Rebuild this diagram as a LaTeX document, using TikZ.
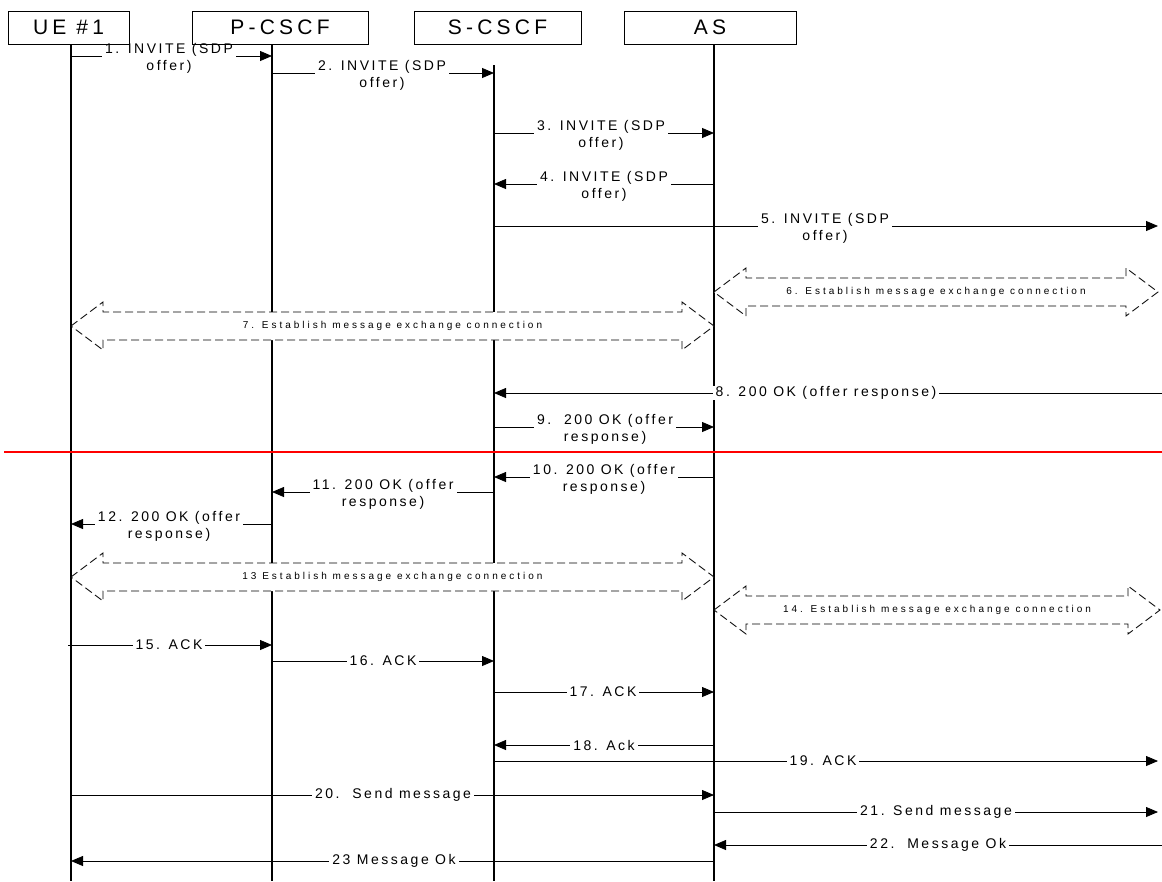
\documentclass[tikz,border=0pt]{standalone}
\usepackage{fontspec}
\setmainfont{Liberation Sans}
\newfontfamily\hdrfont[LetterSpace=20]{Liberation Sans}
\newfontfamily\lblfont[LetterSpace=18]{Liberation Sans}
\newfontfamily\smlfont[LetterSpace=30]{Liberation Sans}
\usetikzlibrary{arrows.meta}
\pgfdeclarelayer{front}
\pgfsetlayers{main,front}
\newcommand\msgarrow[7][]{%
  \coordinate (m#2a) at (#4,#3);
  \coordinate (m#2b) at (#5,#3);
  \draw[msg] (m#2a) -- (m#2b);
  \node[lbl,#1] (l#2) at (#6,#3) {#7};
}
\newcommand\dblarr[5]{%
  \filldraw[dasharrow] (#2,#4) -- ({#2+32},{#4-24}) -- ({#2+32},{#4-14}) -- ({#3-32},{#4-14}) -- ({#3-32},{#4-24}) -- (#3,#4) -- ({#3-32},{#4+24}) -- ({#3-32},{#4+14}) -- ({#2+32},{#4+14}) -- ({#2+32},{#4+24}) -- cycle;
  \node[sml] (#1) at ({(#2+#3)/2},#4) {#5};
}
\begin{document}
\begin{tikzpicture}[x=1pt,y=-1pt,
  hdr/.style={draw, line width=0.9pt, inner sep=0pt, minimum height=33pt, font=\hdrfont\fontsize{21}{24}\selectfont},
  life/.style={line width=1.1pt},
  msg/.style={line width=0.8pt, -{Triangle[length=12pt,width=10pt]}},
  lbl/.style={fill=white, inner xsep=3pt, inner ysep=0pt, align=center, font=\lblfont\fontsize{14}{17}\selectfont},
  two/.style={yshift=-2pt},
  sml/.style={inner sep=0pt, font=\smlfont\fontsize{10}{12}\selectfont},
  dasharrow/.style={draw=black, fill=white, dash pattern=on 8pt off 4pt, line width=0.85pt},
  sep/.style={draw=red, line width=1.2pt}]
\useasboundingbox (0,0) rectangle (1162,881);

% headers (on top layer so that labels never hide their borders)
\begin{pgfonlayer}{front}
\node[hdr, minimum width=121pt] (ue) at (68.5,27.5) {UE \#1};
\node[hdr, minimum width=176pt] (pc) at (280,27.5) {P-CSCF};
\node[hdr, minimum width=167pt] (sc) at (497.5,27.5) {S-CSCF};
\node[hdr, minimum width=172pt] (as) at (710,27.5) {AS};
\end{pgfonlayer}

% lifelines
\coordinate (ueEnd) at (71,881);
\coordinate (pcEnd) at (272,881);
\coordinate (scTop) at (494,65);
\coordinate (scEnd) at (494,881);
\coordinate (asEnd) at (714,881);
\draw[life] (ue.south -| ueEnd) -- (ueEnd);
\draw[life] (pc.south -| pcEnd) -- (pcEnd);
\draw[life] (scTop) -- (scEnd);
\draw[life] (as.south -| asEnd) -- (asEnd);

% messages
\msgarrow[two]{1}{56}{71}{272}{169}{1. INVITE (SDP\\offer)}
\msgarrow[two]{2}{73}{272}{494}{382}{2. INVITE (SDP\\offer)}
\msgarrow[two]{3}{133}{494}{714}{601}{3. INVITE (SDP\\offer)}
\msgarrow[two]{4}{184}{714}{494}{604}{4. INVITE (SDP\\offer)}
\msgarrow[two]{5}{226}{494}{1158}{825}{5. INVITE (SDP\\offer)}

\dblarr{e6}{714}{1158}{292}{6. Establish message exchange connection}
\dblarr{e7}{71}{714}{326}{7. Establish message exchange connection}

\msgarrow{8}{393}{1162}{494}{826}{8. 200 OK (offer response)}
\msgarrow[two]{9}{427}{494}{714}{605}{9.\ \ 200 OK (offer\\response)}

\coordinate (redL) at (4,452);
\coordinate (redR) at (1162,452);
\draw[sep] (redL) -- (redR);

\msgarrow[two]{10}{477}{714}{494}{604}{10. 200 OK (offer\\response)}
\msgarrow[two]{11}{492}{494}{272}{383}{11. 200 OK (offer\\response)}
\msgarrow[two]{12}{524}{272}{71}{169}{12. 200 OK (offer\\response)}

\dblarr{e13}{71}{714}{577}{13 Establish message exchange connection}
\dblarr{e14}{714}{1160}{610}{14. Establish message exchange connection}

\msgarrow{15}{645}{68}{272}{169}{15. ACK}
\msgarrow{16}{661}{272}{494}{383}{16. ACK}
\msgarrow{17}{692}{494}{714}{603}{17. ACK}
\msgarrow{18}{745}{714}{494}{604}{18. Ack}
\msgarrow{19}{761}{494}{1158}{823}{19. ACK}
\msgarrow{20}{795}{71}{714}{393}{20.\ \ Send message}
\msgarrow{21}{812}{714}{1158}{936}{21. Send message}
\msgarrow{22}{845}{1162}{714}{938}{22.\ \ Message Ok}
\msgarrow{23}{861}{714}{71}{394}{23 Message Ok}
\end{tikzpicture}
\end{document}
